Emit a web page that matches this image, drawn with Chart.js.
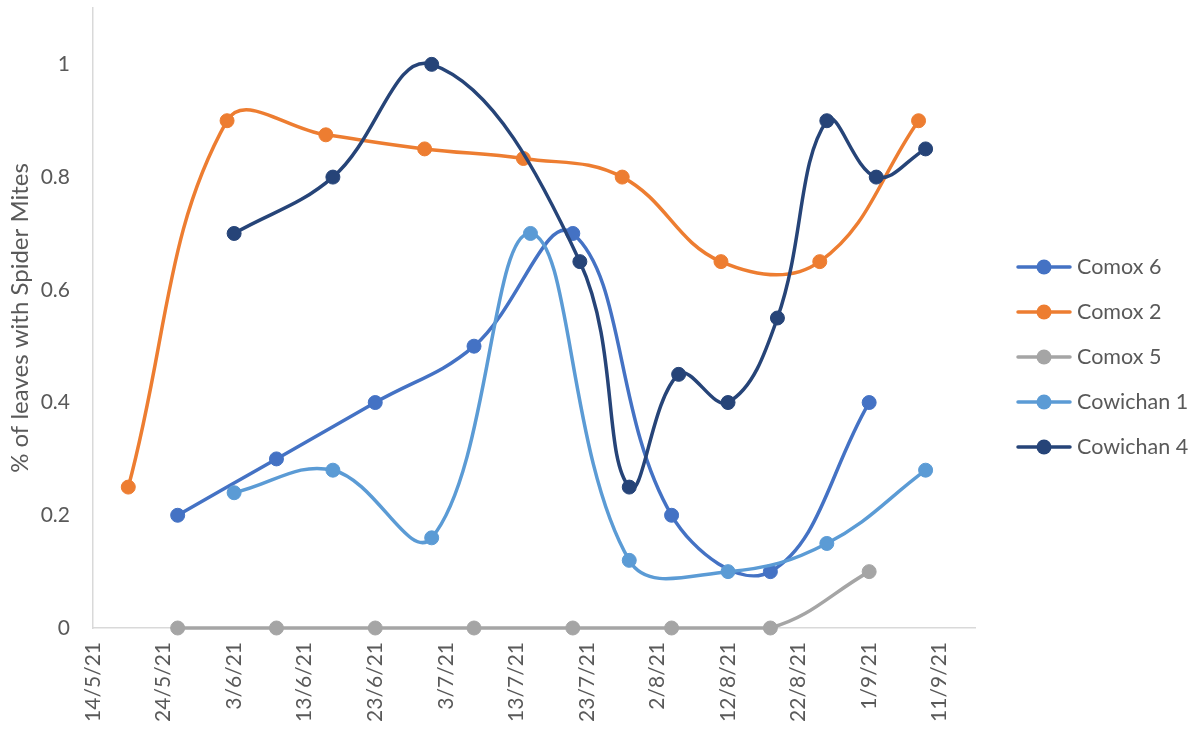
<!DOCTYPE html>
<html>
<head>
<meta charset="utf-8">
<script src="https://cdn.jsdelivr.net/npm/chart.js@4/dist/chart.umd.min.js"></script>
<style>
  html, body { margin: 0; padding: 0; background: #ffffff; }
  #wrap { width: 1204px; height: 730px; position: relative; }
</style>
</head>
<body>
<div id="wrap"><canvas id="chart"></canvas></div>
<script>
// Survey dates (d/m/yy) and share of leaves carrying spider mites
const tickDates = ['14/5/21', '24/5/21', '3/6/21', '13/6/21', '23/6/21', '3/7/21', '13/7/21',
                   '23/7/21', '2/8/21', '12/8/21', '22/8/21', '1/9/21', '11/9/21'];
const axisStart = '14/5/21';
const axisEnd = '16/9/21';
const yTicks = [0, 0.2, 0.4, 0.6, 0.8, 1];

const comox6Dates = ['26/5/21', '9/6/21', '23/6/21', '7/7/21', '21/7/21', '4/8/21', '18/8/21', '1/9/21'];
const comox6Values = [0.2, 0.3, 0.4, 0.5, 0.7, 0.2, 0.1, 0.4];

const comox2Dates = ['19/5/21', '2/6/21', '16/6/21', '30/6/21', '14/7/21', '28/7/21', '11/8/21', '25/8/21', '8/9/21'];
const comox2Values = [0.25, 0.9, 0.875, 0.85, 0.833, 0.8, 0.65, 0.65, 0.9];

const comox5Dates = ['26/5/21', '9/6/21', '23/6/21', '7/7/21', '21/7/21', '4/8/21', '18/8/21', '1/9/21'];
const comox5Values = [0, 0, 0, 0, 0, 0, 0, 0.1];

const cowichan1Dates = ['3/6/21', '17/6/21', '1/7/21', '15/7/21', '29/7/21', '12/8/21', '26/8/21', '9/9/21'];
const cowichan1Values = [0.24, 0.28, 0.16, 0.7, 0.12, 0.1, 0.15, 0.28];

const cowichan4Dates = ['3/6/21', '17/6/21', '1/7/21', '22/7/21', '29/7/21', '5/8/21', '12/8/21', '19/8/21', '26/8/21', '2/9/21', '9/9/21'];
const cowichan4Values = [0.7, 0.8, 1.0, 0.65, 0.25, 0.45, 0.4, 0.55, 0.9, 0.8, 0.85];

const seriesNames = ['Comox 6', 'Comox 2', 'Comox 5', 'Cowichan 1', 'Cowichan 4'];
const seriesColors = ['#4472C4', '#ED7D31', '#A5A5A5', '#5B9BD5', '#264478'];

const FONT = 'Lato, "Liberation Sans", sans-serif';
const TEXT = '#595959';
const AXIS = '#D9D9D9';

// day number counted from the first axis date
function dayNumber(s) {
  const [d, m, y] = s.split('/').map(Number);
  return Math.round(Date.UTC(2000 + y, m - 1, d) / 86400000);
}
const day0 = dayNumber(axisStart);
const toX = s => dayNumber(s) - day0;

function points(dates, values) {
  return dates.map((d, i) => ({ x: toX(d), y: values[i] }));
}

const seriesData = [
  points(comox6Dates, comox6Values),
  points(comox2Dates, comox2Values),
  points(comox5Dates, comox5Values),
  points(cowichan1Dates, cowichan1Values),
  points(cowichan4Dates, cowichan4Values)
];

const datasets = seriesData.map((data, i) => ({
  label: seriesNames[i],
  data: data,
  borderColor: seriesColors[i],
  backgroundColor: seriesColors[i],
  pointBackgroundColor: seriesColors[i],
  pointBorderColor: seriesColors[i],
  borderWidth: 3.5,
  pointRadius: 7,
  pointBorderWidth: 1,
  tension: 0.4,
  fill: false,
  clip: false,
  order: seriesNames.length - 1 - i   // later series sit on top
}));

// Legend on the right: line sample with a marker in the middle
const sideLegend = {
  id: 'sideLegend',
  afterDraw(chart) {
    const ctx = chart.ctx;
    ctx.save();
    chart.data.datasets.forEach((ds, i) => {
      const y = 267 + i * 45;
      ctx.strokeStyle = ds.borderColor;
      ctx.lineWidth = 3.5;
      ctx.lineCap = 'round';
      ctx.beginPath();
      ctx.moveTo(1018, y);
      ctx.lineTo(1070, y);
      ctx.stroke();
      ctx.fillStyle = ds.borderColor;
      ctx.beginPath();
      ctx.arc(1044, y, 7.5, 0, Math.PI * 2);
      ctx.fill();
      ctx.fillStyle = TEXT;
      ctx.font = '21.5px ' + FONT;
      ctx.textAlign = 'left';
      ctx.textBaseline = 'middle';
      ctx.fillText(ds.label, 1077, y);
    });
    ctx.restore();
  }
};

function zeroPadding(scale) {
  scale.paddingTop = 0;
  scale.paddingBottom = 0;
  scale.paddingLeft = 0;
  scale.paddingRight = 0;
}

new Chart(document.getElementById('chart'), {
  type: 'line',
  data: { datasets: datasets },
  plugins: [sideLegend],
  options: {
    responsive: true,
    maintainAspectRatio: false,
    animation: false,
    layout: { padding: { top: 7, right: 229, left: 0, bottom: 0 } },
    plugins: {
      legend: { display: false },
      tooltip: { enabled: false },
      title: { display: false }
    },
    scales: {
      x: {
        type: 'linear',
        min: 0,
        max: toX(axisEnd),
        grid: { display: false, drawTicks: false },
        border: { display: true, color: AXIS, width: 1.5 },
        afterBuildTicks(scale) {
          scale.ticks = tickDates.map(d => ({ value: toX(d) }));
        },
        afterFit(scale) {
          scale.height = 102;
          zeroPadding(scale);
        },
        ticks: {
          autoSkip: false,
          minRotation: 90,
          maxRotation: 90,
          padding: 14,
          color: TEXT,
          font: { family: FONT, size: 21 },
          callback: (v, i) => tickDates[i]
        }
      },
      y: {
        min: 0,
        max: 1.1,
        grid: { display: false, drawTicks: false },
        border: { display: true, color: AXIS, width: 1.5 },
        afterBuildTicks(scale) {
          scale.ticks = yTicks.map(v => ({ value: v }));
        },
        afterFit(scale) {
          scale.width = 93;
          zeroPadding(scale);
        },
        ticks: {
          padding: 23,
          color: TEXT,
          font: { family: FONT, size: 21 },
          callback: (v, i) => String(yTicks[i])
        },
        title: {
          display: true,
          text: '% of leaves with Spider Mites',
          color: TEXT,
          font: { family: FONT, size: 24 },
          padding: { top: 6, bottom: 0 }
        }
      }
    }
  }
});
</script>
</body>
</html>
